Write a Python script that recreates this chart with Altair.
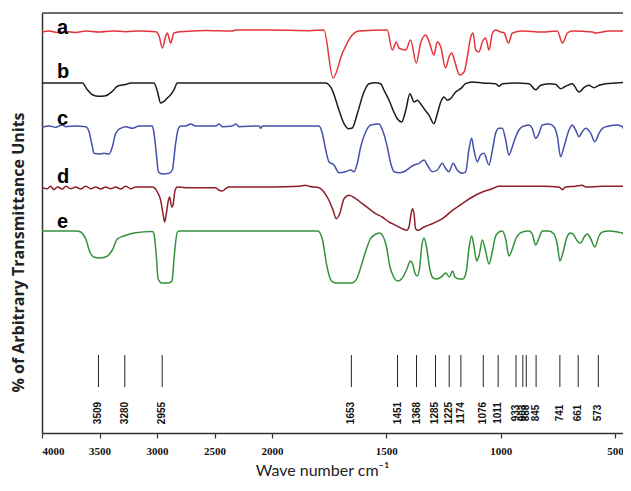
import altair as alt
import pandas as pd

# ---------------- data ----------------
trace_names = ["a", "b", "c", "d", "e"]
trace_colors = ["#e3343c", "#1c1c1c", "#4350ab", "#8c1f27", "#33903b"]
# vertical offset (arbitrary units) of each spectrum's baseline
baselines = [402, 350, 307, 246, 202]

a_wn = [4000, 3939, 3867, 3794, 3707, 3620, 3504, 3388, 3272, 3156,
        3011, 2982, 2953, 2924, 2910, 2881, 2852, 2794, 2693, 2577,
        2345, 2316, 2000, 1838, 1773, 1733, 1692, 1649, 1620, 1496,
        1474, 1456, 1445, 1415, 1394, 1369, 1350, 1328, 1311, 1292,
        1277, 1262, 1241, 1226, 1214, 1200, 1179, 1160, 1146, 1131,
        1121, 1109, 1095, 1080, 1066, 1051, 1036, 1022, 1000, 985,
        966, 949, 905, 818, 752, 730, 708, 687, 599, 585,
        526, 468, 453, 434]
a_depth = [1, 0, 1.5, 0.5, 1.5, 0, 1, 0, 0.7, 0,
           0.7, 5, 17, 5, 2, 12, 2, 0.7, 0, -0.5,
           0, -1, -1, -0.3, -1, 47, 22, 4, 0, -1,
           19, 11, 17, 19, 9, 32, 12, 4, 12, 24,
           11, 16, 37, 26, 22, 31, 44, 41, 26, 6,
           2, 19, 21, 11, 7, 19, 2, -1, 1, 2,
           12, 2, 0, 1, 0, 12, 2, 0, 1, 2,
           0, 0, 2, 0]

b_wn = [4000, 3649, 3606, 3562, 3504, 3446, 3388, 3345, 3287, 3258,
        3229, 3026, 2997, 2968, 2939, 2910, 2881, 2852, 2823, 2000,
        1838, 1765, 1736, 1707, 1685, 1666, 1649, 1627, 1598, 1576,
        1547, 1525, 1510, 1488, 1467, 1452, 1433, 1415, 1397, 1379,
        1364, 1350, 1335, 1313, 1292, 1277, 1262, 1248, 1233, 1219,
        1197, 1175, 1153, 1124, 1080, 1022, 1007, 993, 934, 876,
        847, 825, 789, 760, 738, 716, 687, 657, 636, 614,
        592, 570, 541, 497, 434]
b_depth = [0, 0, 6.7, 11.7, 13.3, 12.7, 8.3, 3.3, 1.7, 1,
           0, 0, 8.3, 20, 18.3, 15, 11.7, 6.7, 0, 0,
           0, 0, 7.3, 27.3, 40.7, 45.7, 45, 30.7, 9, 0.7,
           -0.3, 0.7, 7.3, 17.3, 29, 35.7, 39, 27.3, 10.7, 19,
           17.3, 20.7, 25.7, 32.3, 40.7, 30.7, 19, 14, 17.3, 15.7,
           9, 5.7, 0.7, -1, 0, 0.7, 3.3, 0.7, 0, 0.7,
           6.7, 2.3, 0.7, 1.3, 5.7, 3.3, 0.7, 9, 4.7, 2.3,
           4.7, 2.3, 0.7, 0, -1]

c_wn = [4000, 3939, 3881, 3823, 3794, 3707, 3620, 3591, 3562, 3548,
        3504, 3461, 3417, 3388, 3359, 3316, 3272, 3214, 3156, 3040,
        3026, 3006, 2988, 2953, 2896, 2867, 2838, 2814, 2794, 2751,
        2707, 2664, 2490, 2461, 2432, 2345, 2316, 2287, 2113, 2098,
        2084, 2000,
        1838, 1794, 1780, 1765, 1751, 1729, 1707, 1678, 1656, 1641,
        1627, 1612, 1590, 1568, 1532, 1517, 1496, 1481, 1466, 1445,
        1423, 1401, 1379, 1357, 1335, 1321, 1299, 1277, 1255, 1241,
        1226, 1208, 1190, 1168, 1153, 1139, 1127, 1117, 1102, 1088,
        1073, 1051, 1036, 1022, 1007, 993, 978, 964, 949, 934,
        920, 905, 876, 862, 847, 832, 818, 789, 767, 752,
        738, 723, 701, 687, 672, 657, 643, 628, 606, 588,
        570, 555, 526, 490, 468, 453, 434]
c_depth = [1.3, 0, 1.3, -1, 0.7, 0, 0.7, 5.7, 20.7, 27.3,
           28, 27.3, 28, 20.7, 7.3, 2.3, 0.7, 2.3, 0, 0,
           7.3, 27.3, 45.7, 48, 47.3, 44, 17.3, 2.3, 0, 0,
           -2, 0, 0, -2, 0.7, 0, -2, 0.7, 0, 2.3,
           0, 0,
           0, 0, 7.3, 24, 35.7, 39, 46.7, 45.7, 44, 45.7,
           37.3, 20.7, 5.7, -1, -2, 4, 20.7, 37.3, 45.7, 46.7,
           45.7, 42.3, 39, 37.3, 34, 39, 45.7, 44, 37.3, 42.3,
           45.7, 37.3, 44, 47.3, 45.7, 24, 12.3, 24, 35.7, 29,
           27.3, 39, 24, 7.3, 2.3, 2.3, 14, 29, 20.7, 10.7,
           4, 0.7, -1, 2.3, 12.3, 7.3, -1, -2, 0.7, 10.7,
           30.7, 20.7, 4, -1, 4, 10.7, 5.7, 2.3, 7.3, 15.7,
           7.3, 2.3, 0, -1, 0.7, 7.3, 4]

d_wn = [4000, 3954, 3925, 3896, 3867, 3823, 3794, 3751, 3707, 3664,
        3620, 3577, 3533, 3490, 3446, 3403, 3359, 3316, 3272, 3229,
        3185, 3156, 3040, 2997, 2968, 2948, 2933, 2919, 2901, 2890,
        2872, 2861, 2843, 2823, 2751, 2490, 2461, 2432, 2403, 2374,
        2000, 1880, 1853,
        1838, 1794, 1773, 1751, 1733, 1719, 1704, 1685, 1663, 1634,
        1605, 1576, 1547, 1518, 1488, 1459, 1430, 1411, 1401, 1394,
        1386, 1379, 1372, 1360, 1335, 1299, 1255, 1211, 1168, 1124,
        1080, 1036, 1007, 964, 818, 745, 730, 716, 672, 643,
        628, 555, 434]
d_depth = [0.7, 1.7, -0.7, 2.7, 0, 2, -0.7, 1.7, 0, 2,
           -0.7, 1.7, 0, 2, 0, 1.7, 0, 2, -0.7, 1.7,
           0, 0, 0, 5, 13.3, 26.7, 35, 26.7, 13.3, 10,
           20, 18.3, 3.3, 0, 0.7, 0.7, 3.3, 4, 1.7, 0,
           0, -0.7, -1.7,
           -0.7, 0.7, 5, 13.3, 23.3, 31.7, 26.7, 11.7, 8.3, 11.7,
           16.7, 21.7, 26.7, 30, 35, 38.3, 41.7, 43.3, 40, 30,
           21.7, 26.7, 41.7, 43.3, 40, 36.7, 31.7, 23.3, 16.7, 10,
           5, 1.7, -0.7, -0.7, -0.7, 0, 2.7, 0, -0.7, -1.7,
           0, -0.7, -0.7]

e_wn = [4000, 3700, 3664, 3620, 3580, 3550, 3500, 3450, 3420, 3388,
        3345, 3290, 3200, 3040, 3026, 3006, 2990, 2960, 2900, 2870,
        2850, 2823, 2800, 2000, 1800, 1780, 1760, 1740, 1720, 1680,
        1650, 1630, 1610, 1590, 1570, 1545, 1530, 1515, 1500, 1485,
        1470, 1450, 1430, 1410, 1395, 1385, 1375, 1365, 1355, 1345,
        1335, 1325, 1310, 1295, 1280, 1260, 1240, 1225, 1210, 1200,
        1180, 1165, 1150, 1139, 1127, 1117, 1105, 1095, 1080, 1066,
        1051, 1036, 1022, 1007, 993, 978, 964, 949, 934, 920,
        905, 876, 862, 847, 832, 818, 789, 767, 752, 741,
        728, 710, 695, 680, 665, 650, 635, 620, 606, 588,
        570, 555, 526, 490, 468, 453, 434]
e_depth = [0, 0, 1, 8, 22, 26, 27, 26, 24, 19,
           8, 5, 2, 0.5, 3, 25, 48, 52, 52, 50,
           25, 1, 0, 0, 0, 8, 35, 50, 52, 52,
           52, 48, 35, 20, 8, 3, 2, 5, 15, 35,
           45, 50, 47, 38, 30, 33, 42, 45, 38, 15,
           7, 15, 38, 47, 48, 46, 42, 46, 40, 46,
           48, 48, 40, 18, 5, 15, 30, 25, 9, 20,
           33, 20, 5, 1, 0, 8, 25, 18, 8, 3,
           1, 0, 3, 14, 7, 0, 0, 3, 14, 30,
           22, 6, 2, 4, 10, 12, 6, 3, 8, 16,
           5, 1, 0, 1, 2, 6, 3]

# reference band positions (stick lines at the bottom)
stick_wn = [3509, 3280, 2955, 1653, 1451, 1368, 1285, 1225, 1174,
            1076, 1011, 933, 903, 888, 845, 741, 661, 573]
stick_labels = [str(v) for v in stick_wn]

# axis tick labels
x_ticks = [4000, 3500, 3000, 2500, 2000, 1500, 1000, 500]

# trace letters
letter_y = [399, 355, 308, 250, 205]
letter_wn = [3870, 3870, 3870, 3870, 3870]

# ---------------- build tables ----------------
rows = []
for name, base, wn, dep in zip(trace_names, baselines,
                               [a_wn, b_wn, c_wn, d_wn, e_wn],
                               [a_depth, b_depth, c_depth, d_depth, e_depth]):
    for w, dval in zip(wn, dep):
        rows.append({"trace": name, "wavenumber": w, "signal": base - dval})
spectra = pd.DataFrame(rows)
sticks_df = pd.DataFrame({"wavenumber": stick_wn, "label": stick_labels,
                          "lo": [46] * len(stick_wn), "hi": [78] * len(stick_wn),
                          "ty": [20] * len(stick_wn)})
letters_df = pd.DataFrame({"trace": trace_names, "wavenumber": letter_wn, "signal": letter_y})
one = pd.DataFrame({"k": [0]})

W, H = 581, 420
x_scale = alt.Scale(domain=[4000, 2000, 465], range=[0, 230, W], nice=False, zero=False)
y_scale = alt.Scale(domain=[0, 420], nice=False, zero=False)

x_axis = alt.Axis(values=x_ticks, format="d", grid=False, title="Wave number cm⁻¹",
                  titleFont="Lato", titleFontSize=16, titleFontWeight="normal", titleColor="#222",
                  titleX=280, titleY=37, titleBaseline="middle", titleAlign="center",
                  labelFont="Liberation Sans Narrow", labelFontSize=11, labelFontWeight="bold",
                  labelColor="#111", labelPadding=7, labelOverlap=False, labelBound=False,
                  domainColor="#333", domainWidth=1.5, tickColor="#333", tickSize=5, tickWidth=1.2)
y_axis = alt.Axis(grid=False, ticks=False, labels=False, domainColor="#333", domainWidth=1.5,
                  title="% of Arbitrary Transmittance Units", titleFont="Open Sans",
                  titleFontSize=16, titleFontWeight="bold", titleColor="#222",
                  titleAngle=270, titleX=-24, titleY=239, titleAlign="center", titleBaseline="middle")

X = alt.X("wavenumber:Q", scale=x_scale, axis=x_axis)

lines = alt.Chart(spectra).mark_line(strokeWidth=1.5, clip=True, interpolate="monotone").encode(
    x=X,
    y=alt.Y("signal:Q", scale=y_scale, axis=y_axis),
    color=alt.Color("trace:N", scale=alt.Scale(domain=trace_names, range=trace_colors), legend=None),
)

sticks = alt.Chart(sticks_df).mark_rule(color="#222", strokeWidth=1).encode(
    x=X,
    y=alt.Y("lo:Q", scale=y_scale, axis=y_axis),
    y2="hi:Q",
)

stick_text = alt.Chart(sticks_df).mark_text(angle=270, font="Liberation Sans", fontSize=10,
                                            fontWeight="bold", color="#111",
                                            align="center", baseline="middle").encode(
    x=X,
    y=alt.Y("ty:Q", scale=y_scale, axis=y_axis),
    text="label:N",
)

letters = alt.Chart(letters_df).mark_text(align="left", baseline="alphabetic", font="Liberation Sans",
                                          fontSize=20, fontWeight="bold", color="#000").encode(
    x=X,
    y=alt.Y("signal:Q", scale=y_scale, axis=y_axis),
    text="trace:N",
)

frame_top = alt.Chart(one).mark_rule(color="#444", strokeWidth=1.5).encode(
    x=alt.value(0), x2=alt.value(W), y=alt.value(0)
)

chart = alt.layer(lines, sticks, stick_text, letters, frame_top).properties(
    width=W, height=H,
    autosize=alt.AutoSizeParams(type="none"),
    padding={"left": 34, "top": 5, "right": 0, "bottom": 45},
).configure_view(stroke=None).configure(background="white")

chart.save("out.html", embed_options={"renderer": "svg", "actions": False})
